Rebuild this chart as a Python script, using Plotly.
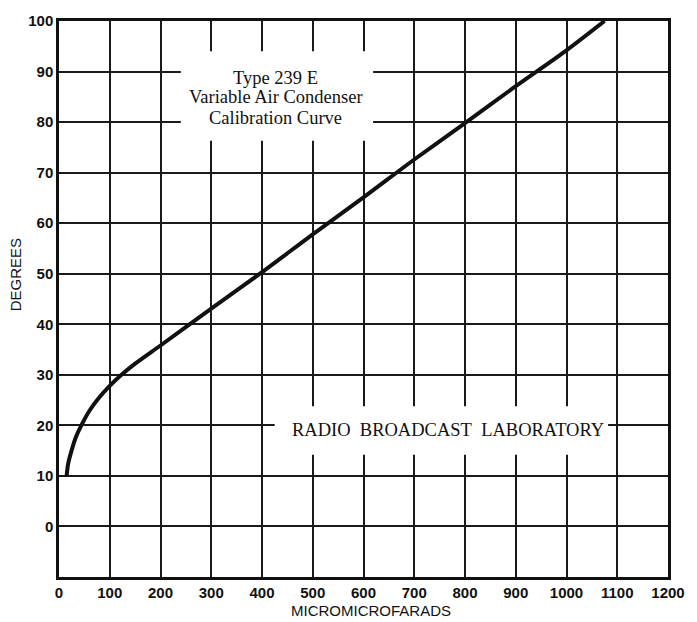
import plotly.graph_objects as go

# Calibration curve: capacity (micromicrofarads) vs dial setting (degrees)
capacity = [15, 18, 25, 33, 44, 60, 80, 100, 122, 150, 200, 300, 400, 500,
            600, 700, 800, 900, 1000, 1075]
degrees = [10, 12.4, 15.1, 17.6, 20, 22.9, 25.6, 27.8, 29.9, 32.2, 35.8, 43.1,
           50.3, 57.8, 65.1, 72.6, 79.8, 87.1, 94.2, 100]

x_ticks = list(range(0, 1201, 100))
y_ticks = list(range(0, 101, 10))

title_lines = ["Type 239 E", "Variable Air Condenser", "Calibration Curve"]
title_y = [88.8, 84.9, 80.8]
lab_text = "RADIO\u00a0\u00a0BROADCAST\u00a0\u00a0LABORATORY"

ink = "#111111"
sans = "Liberation Sans, Arial, sans-serif"
serif = "Liberation Serif, Times New Roman, serif"

fig = go.Figure()
fig.add_trace(go.Scatter(
    x=capacity, y=degrees, mode="lines",
    line=dict(color=ink, width=4, shape="spline", smoothing=0.8),
    hoverinfo="skip", showlegend=False,
))

# white panels behind the printed labels interrupt the grid
fig.add_shape(type="rect", xref="x", yref="y", x0=240, x1=619, y0=76.3, y1=94,
              fillcolor="white", line=dict(width=0), layer="between")
fig.add_shape(type="rect", xref="x", yref="y", x0=425, x1=1082, y0=14.2, y1=23.8,
              fillcolor="white", line=dict(width=0), layer="between")

for line_text, ly in zip(title_lines, title_y):
    fig.add_annotation(x=427, y=ly, xref="x", yref="y", text=line_text,
                       xanchor="center", yanchor="middle", showarrow=False,
                       font=dict(family=serif, size=18.5, color=ink))
fig.add_annotation(x=767, y=19.0, xref="x", yref="y", text=lab_text,
                   xanchor="center", yanchor="middle", showarrow=False,
                   font=dict(family=serif, size=18.5, color=ink))

fig.add_annotation(x=0.513, y=-0.0606, xref="paper", yref="paper",
                   text="MICROMICROFARADS", showarrow=False,
                   xanchor="center", yanchor="middle",
                   font=dict(family=sans, size=15, color=ink))
fig.add_annotation(x=-0.0712, y=0.5437, xref="paper", yref="paper",
                   text="DEGREES", showarrow=False, textangle=-90,
                   xanchor="center", yanchor="middle",
                   font=dict(family=sans, size=15, color=ink))

axis_common = dict(
    showgrid=True, gridcolor="#1a1a1a", gridwidth=1.6,
    showline=True, linecolor=ink, linewidth=2.5, mirror=True,
    ticks="", tickfont=dict(family=sans, size=15, color=ink, weight="bold"),
    zeroline=False,
)
fig.update_xaxes(range=[0, 1200], tickvals=x_ticks, **axis_common)
fig.update_yaxes(range=[-10, 100], tickvals=y_ticks, **axis_common)

fig.update_layout(
    width=697, height=622,
    margin=dict(l=59, r=20, t=16, b=45),
    paper_bgcolor="white", plot_bgcolor="white",
    showlegend=False,
)

fig.write_html("out.html")
